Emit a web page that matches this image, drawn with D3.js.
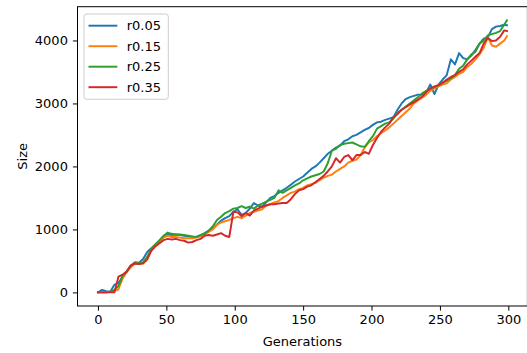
<!DOCTYPE html>
<html>
<head>
<meta charset="utf-8">
<script src="https://cdn.jsdelivr.net/npm/d3@7"></script>
<style>
  body { margin: 0; background: #fff; }
  svg text { font-family: "DejaVu Sans", sans-serif; }
</style>
</head>
<body>
<div id="chart"></div>
<script>
// generations sampled every 3 steps, plus the last one
var gens = d3.range(0, 298, 3).concat([299]);

var seriesNames = ["r0.05", "r0.15", "r0.25", "r0.35"];
var colors = ["#1f77b4", "#ff7f0e", "#2ca02c", "#d62728"];

var r005 = [0,40,20,10,120,150,250,330,420,480,470,530,640,700,760,820,880,930,910,920,
  910,900,890,880,880,910,940,980,1020,1080,1140,1180,1210,1280,1320,1230,1260,1330,1420,1380,
  1360,1430,1500,1530,1580,1620,1660,1710,1760,1800,1840,1900,1960,2000,2060,2130,2200,2250,2300,2330,
  2400,2430,2480,2500,2540,2580,2610,2660,2700,2710,2740,2760,2780,2900,3000,3070,3100,3120,3140,3140,
  3180,3300,3150,3300,3380,3450,3700,3620,3800,3720,3700,3760,3850,3950,4030,4050,4180,4220,4230,4250,
  4240];

var r015 = [0,0,0,10,20,50,220,320,400,460,460,480,560,680,750,800,870,900,880,880,
  870,860,860,860,870,890,920,960,1000,1070,1110,1130,1150,1180,1200,1180,1220,1260,1280,1300,
  1320,1380,1400,1430,1450,1500,1540,1580,1600,1640,1660,1700,1720,1740,1780,1820,1850,1870,1920,1960,
  2000,2060,2090,2110,2180,2300,2380,2420,2480,2530,2570,2620,2680,2740,2800,2860,2920,3000,3050,3090,
  3140,3200,3240,3270,3300,3320,3380,3420,3470,3500,3580,3630,3700,3780,3880,4050,3920,3900,3950,4000,
  4070];

var r025 = [0,0,0,10,40,100,260,330,420,460,460,470,560,690,760,830,900,950,930,920,
  920,910,900,890,880,910,930,980,1050,1150,1200,1260,1290,1330,1340,1370,1340,1360,1330,1380,
  1410,1440,1470,1500,1620,1580,1620,1660,1700,1730,1780,1810,1840,1860,1880,1920,2050,2250,2280,2340,
  2360,2370,2380,2350,2320,2310,2400,2480,2600,2640,2680,2700,2760,2850,2900,2950,3000,3050,3100,3160,
  3200,3230,3260,3290,3330,3360,3400,3450,3550,3600,3700,3780,3820,3950,4000,4080,4100,4120,4150,4250,
  4320];

var r035 = [0,0,0,0,0,250,280,330,430,460,450,460,520,660,730,780,830,850,840,850,
  830,820,790,800,830,850,900,910,900,920,940,900,880,1280,1270,1210,1260,1220,1300,1330,
  1360,1380,1400,1400,1410,1420,1420,1480,1560,1620,1640,1680,1700,1750,1800,1850,1920,2000,2130,2060,
  2150,2180,2100,2180,2180,2230,2200,2340,2450,2550,2620,2680,2780,2830,2900,2940,2980,3020,3060,3110,
  3180,3240,3270,3290,3330,3380,3420,3450,3500,3540,3620,3680,3740,3800,3950,4040,3990,4000,4060,4160,
  4150];

var allSeries = [r005, r015, r025, r035];

var xTicks = [0, 50, 100, 150, 200, 250, 300];
var yTicks = [0, 1000, 2000, 3000, 4000];

var width = 527, height = 353;
var margin = {left: 77.5, right: 527.4, top: 6.7, bottom: 306};
var fontSize = "13px";

var x = d3.scaleLinear().domain([-14.95, 313.95]).range([margin.left, margin.right]);
var y = d3.scaleLinear().domain([-216, 4536]).range([margin.bottom, margin.top]);

var svg = d3.select("#chart").append("svg")
  .attr("width", width)
  .attr("height", height);

svg.append("defs").append("clipPath").attr("id", "plotclip")
  .append("rect")
  .attr("x", margin.left).attr("y", margin.top)
  .attr("width", margin.right - margin.left).attr("height", margin.bottom - margin.top);

var line = d3.line()
  .x(function(d, i) { return x(gens[i]); })
  .y(function(d) { return y(d); });

var plot = svg.append("g").attr("clip-path", "url(#plotclip)");
allSeries.forEach(function(s, k) {
  plot.append("path")
    .datum(s)
    .attr("d", line)
    .attr("fill", "none")
    .attr("stroke", colors[k])
    .attr("stroke-width", 1.95)
    .attr("stroke-linejoin", "round")
    .attr("stroke-linecap", "square");
});

// axes
var xAxis = svg.append("g")
  .attr("transform", "translate(0," + margin.bottom + ")")
  .call(d3.axisBottom(x).tickValues(xTicks).tickSize(4.6).tickPadding(4.5).tickFormat(d3.format("d")));
var yAxis = svg.append("g")
  .attr("transform", "translate(" + margin.left + ",0)")
  .call(d3.axisLeft(y).tickValues(yTicks).tickSize(4.6).tickPadding(5).tickFormat(d3.format("d")));

[xAxis, yAxis].forEach(function(a) {
  a.select(".domain").remove();
  a.selectAll(".tick line").attr("stroke", "#000").attr("stroke-width", 1);
  a.selectAll(".tick text").attr("fill", "#000").style("font-size", fontSize)
    .style("font-family", "DejaVu Sans");
});

// spines
svg.append("rect")
  .attr("x", margin.left).attr("y", margin.top)
  .attr("width", margin.right - margin.left).attr("height", margin.bottom - margin.top)
  .attr("fill", "none")
  .attr("stroke", "#000")
  .attr("stroke-width", 1);

// axis labels
svg.append("text")
  .attr("x", (margin.left + margin.right) / 2)
  .attr("y", 345.5)
  .attr("text-anchor", "middle")
  .style("font-size", fontSize)
  .text("Generations");

svg.append("text")
  .attr("transform", "translate(26.5," + ((margin.top + margin.bottom) / 2) + ") rotate(-90)")
  .attr("text-anchor", "middle")
  .style("font-size", fontSize)
  .text("Size");

// legend
var legend = svg.append("g");
legend.append("rect")
  .attr("x", 84).attr("y", 14)
  .attr("width", 84.3).attr("height", 85.3)
  .attr("rx", 2.6)
  .attr("fill", "#fff").attr("fill-opacity", 0.8)
  .attr("stroke", "#cccccc").attr("stroke-width", 1);

seriesNames.forEach(function(name, k) {
  var ly = 25.7 + k * 20.5;
  legend.append("line")
    .attr("x1", 88.5).attr("x2", 117.3)
    .attr("y1", ly).attr("y2", ly)
    .attr("stroke", colors[k]).attr("stroke-width", 1.95);
  legend.append("text")
    .attr("x", 126.7).attr("y", ly)
    .attr("dy", "0.36em")
    .style("font-size", fontSize)
    .text(name);
});
</script>
</body>
</html>
